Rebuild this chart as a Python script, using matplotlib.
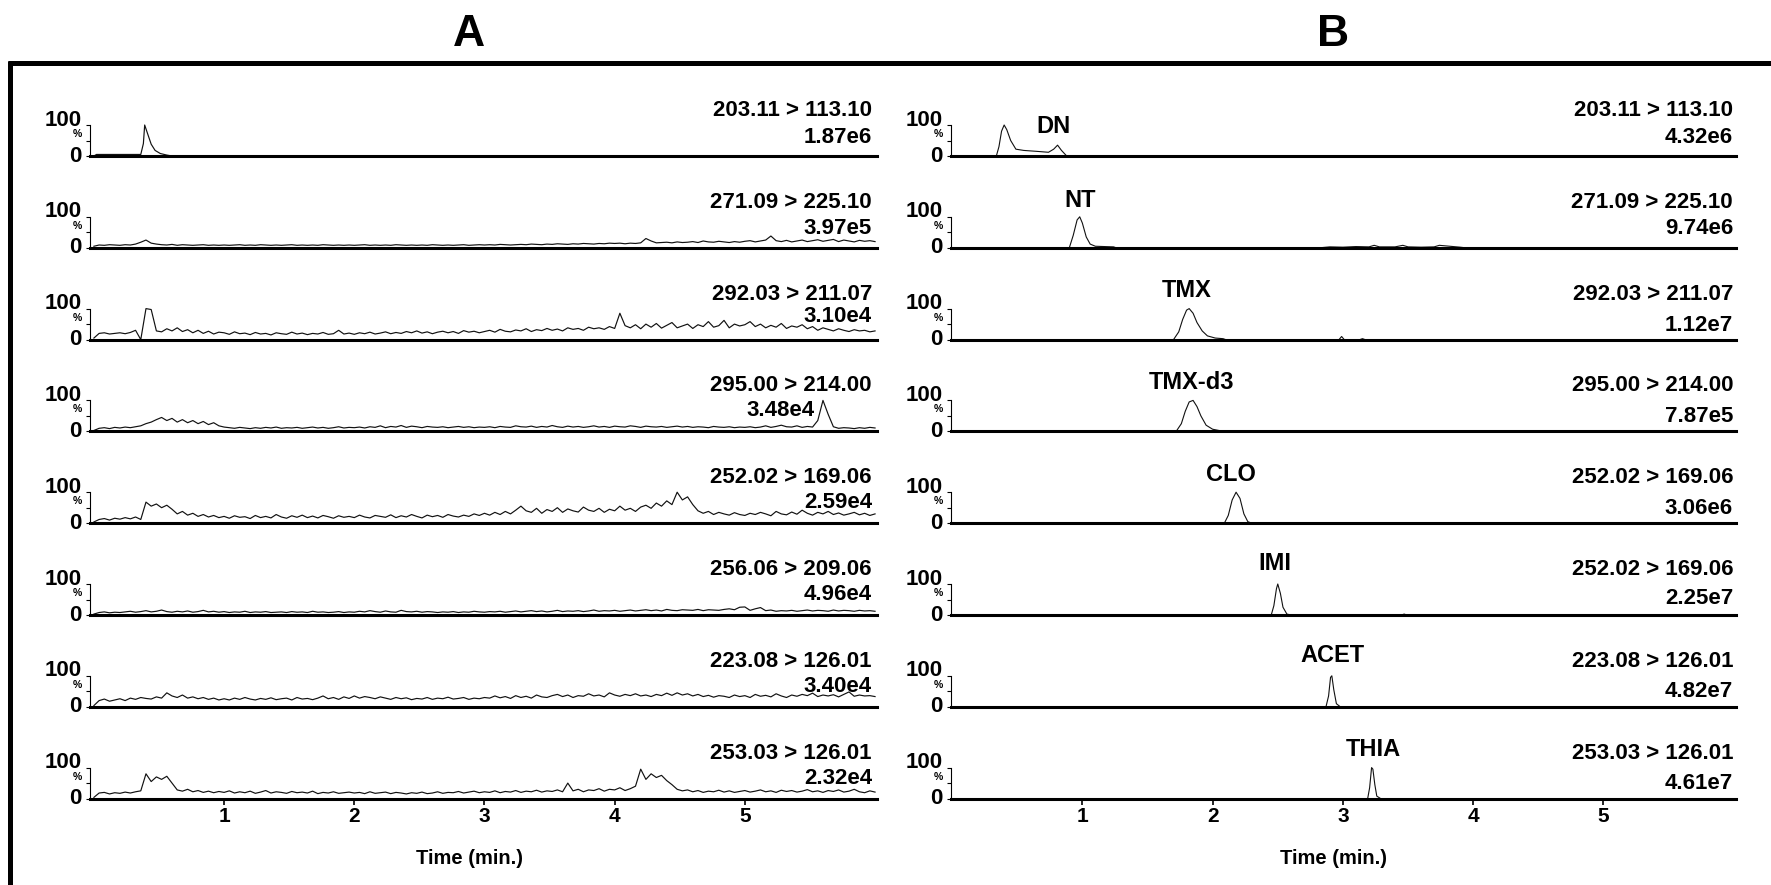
import numpy as np
import matplotlib
matplotlib.use("Agg")
import matplotlib.pyplot as plt
from matplotlib.lines import Line2D

plt.rcParams["font.family"] = ["Liberation Sans", "DejaVu Sans"]
plt.rcParams["font.weight"] = "bold"

# ---------------- data ----------------
TRANSITIONS_A = ["203.11 > 113.10", "271.09 > 225.10", "292.03 > 211.07", "295.00 > 214.00",
                 "252.02 > 169.06", "256.06 > 209.06", "223.08 > 126.01", "253.03 > 126.01"]
INTENSITY_A = ["1.87e6", "3.97e5", "3.10e4", "3.48e4", "2.59e4", "4.96e4", "3.40e4", "2.32e4"]
TRANSITIONS_B = ["203.11 > 113.10", "271.09 > 225.10", "292.03 > 211.07", "295.00 > 214.00",
                 "252.02 > 169.06", "252.02 > 169.06", "223.08 > 126.01", "253.03 > 126.01"]
INTENSITY_B = ["4.32e6", "9.74e6", "1.12e7", "7.87e5", "3.06e6", "2.25e7", "4.82e7", "4.61e7"]
COMPOUNDS_B = ["DN", "NT", "TMX", "TMX-d3", "CLO", "IMI", "ACET", "THIA"]
COMPOUND_LABEL_T = [0.78, 0.98, 1.80, 1.84, 2.14, 2.48, 2.92, 3.23]
X_TICKS = [1, 2, 3, 4, 5]

# Panel A, row 1 (blank sample, sparse trace)
A1_T = [0.0, 0.02, 0.36, 0.38, 0.39, 0.41, 0.44, 0.47, 0.51, 0.56, 0.60, 6.0]
A1_V = [0, 5, 5, 40, 100, 75, 38, 18, 8, 3, 0, 0]

# Panel A, rows 2-8: relative intensity (%) sampled every 0.04 min, 0 - 6 min
A2_V = [5, 9, 8, 10, 9, 8, 10, 9, 12, 18, 25, 15, 12, 10, 9, 11, 8, 10, 9, 8, 9, 10, 8, 9, 8,
        9, 8, 9, 10, 8, 9, 8, 10, 9, 8, 9, 8, 9, 10, 8, 9, 8, 9, 8, 10, 9, 8, 9, 8, 9,
        8, 9, 10, 8, 9, 8, 9, 8, 10, 9, 8, 9, 8, 9, 8, 10, 9, 8, 9, 8, 9, 10, 8, 9, 10,
        9, 10, 9, 11, 10, 9, 10, 11, 10, 12, 11, 10, 12, 11, 13, 12, 11, 13, 12, 14, 13, 12, 14, 13, 15,
        14, 15, 13, 15, 14, 16, 30, 22, 16, 17, 18, 16, 19, 17, 18, 20, 17, 22, 19, 18, 21, 19, 17, 20, 18,
        21, 23, 19, 22, 25, 38, 23, 20, 24, 19, 22, 25, 20, 23, 26, 21, 24, 27, 20, 25, 22, 19, 24, 21, 23, 20]
A3_V = [5, 20, 22, 18, 20, 22, 19, 23, 30, 0, 100, 97, 28, 25, 35, 28, 38, 26, 32, 22, 30, 20, 27, 18, 24,
        22, 17, 25, 19, 21, 16, 23, 18, 20, 15, 22, 19, 17, 24, 18, 21, 16, 20, 18, 23, 17, 19, 30, 18, 21,
        17, 22, 19, 24, 18, 21, 25, 19, 23, 20, 26, 22, 28, 21, 25, 19, 24, 27, 22, 26, 20, 29, 24, 27, 22,
        26, 30, 24, 33, 27, 25, 31, 28, 35, 26, 32, 29, 36, 30, 34, 28, 38, 33, 36, 30, 40, 35, 38, 33, 42,
        36, 85, 45, 38, 48, 35, 50, 40, 52, 37, 46, 55, 38, 44, 50, 36, 48, 42, 58, 40, 45, 62, 38, 50, 44,
        48, 58, 42, 50, 38, 46, 40, 52, 36, 44, 40, 48, 35, 42, 30, 38, 33, 28, 35, 30, 26, 32, 28, 30, 25, 28]
A4_V = [3, 10, 12, 9, 13, 11, 14, 12, 15, 18, 25, 30, 38, 45, 35, 42, 30, 38, 28, 35, 25, 32, 22, 28, 18,
        14, 12, 10, 13, 11, 9, 12, 10, 13, 11, 14, 10, 12, 11, 13, 10, 12, 14, 11, 13, 10, 12, 15, 11, 13,
        12, 14, 11, 15, 13, 18, 12, 16, 14, 19, 13, 17, 15, 12, 16, 14, 13, 15, 12, 14, 16, 13, 15, 12, 14,
        13, 15, 12, 16, 14, 13, 18, 15, 14, 17, 13, 16, 14, 19, 15, 13, 17, 14, 16, 13, 15, 18, 14, 16, 13,
        17, 15, 14, 18, 16, 13, 17, 15, 14, 16, 13, 15, 17, 14, 16, 13, 15, 14, 12, 16, 14, 13, 15, 12, 14,
        13, 15, 12, 14, 18, 13, 16, 20, 15, 14, 18, 13, 16, 14, 35, 100, 55, 15, 10, 12, 11, 9, 12, 10, 13, 11]
A5_V = [4, 12, 15, 10, 16, 13, 18, 14, 20, 12, 68, 55, 62, 50, 58, 45, 30, 38, 26, 32, 22, 28, 20, 25, 18,
        22, 16, 24, 19, 21, 15, 25, 18, 22, 17, 28, 20, 16, 24, 19, 26, 18, 23, 17, 25, 21, 16, 24, 19, 22,
        18, 26, 20, 17, 25, 22, 19, 27, 18, 24, 20, 28, 22, 17, 26, 21, 25, 19, 28, 23, 20, 26, 22, 30, 25,
        32, 26, 35, 28, 38, 30, 42, 55, 40, 35, 48, 32, 44, 38, 50, 35, 46, 40, 36, 52, 42, 38, 48, 35, 45,
        40, 55, 42, 48, 38, 52, 58, 48, 65, 55, 72, 60, 100, 75, 85, 60, 40, 32, 38, 28, 35, 30, 26, 34, 28,
        25, 32, 28, 35, 30, 24, 38, 30, 27, 36, 29, 42, 32, 26, 35, 30, 38, 28, 33, 26, 30, 35, 27, 32, 25, 30]
A6_V = [3, 8, 10, 7, 9, 8, 10, 12, 9, 11, 14, 10, 12, 16, 11, 9, 12, 10, 13, 9, 11, 15, 10, 12, 9,
        11, 8, 10, 9, 12, 8, 10, 9, 11, 8, 9, 10, 8, 11, 9, 10, 8, 12, 9, 10, 8, 9, 11, 8, 10,
        9, 12, 10, 14, 11, 9, 13, 10, 9, 15, 11, 10, 12, 9, 11, 10, 8, 10, 9, 11, 8, 10, 9, 12, 10,
        9, 11, 10, 12, 9, 11, 13, 10, 12, 14, 11, 13, 10, 12, 15, 11, 13, 12, 14, 11, 13, 16, 12, 14, 13,
        15, 12, 14, 16, 13, 15, 17, 14, 16, 13, 18, 15, 14, 17, 16, 15, 18, 14, 17, 16, 15, 18, 20, 17, 25,
        26, 15, 20, 24, 14, 16, 12, 14, 13, 15, 12, 14, 16, 13, 15, 14, 12, 16, 13, 15, 14, 12, 15, 13, 14, 12]
A7_V = [4, 20, 25, 18, 22, 26, 20, 28, 24, 30, 27, 25, 32, 28, 45, 35, 30, 38, 28, 32, 26, 30, 24, 28, 22,
        26, 22, 28, 24, 30, 25, 22, 27, 24, 29, 23, 26, 28, 22, 30, 25, 27, 23, 28, 35, 26, 30, 24, 32, 27,
        35, 28, 33, 30, 26, 32, 28, 24, 30, 26, 29, 23, 27, 25, 30, 24, 28, 26, 31, 25, 27, 30, 24, 28, 26,
        30, 28, 35, 29, 33, 27, 36, 30, 34, 28, 38, 32, 30, 36, 40, 33, 38, 30, 36, 34, 42, 35, 38, 32, 45,
        38, 34, 40, 36, 42, 35, 38, 33, 40, 36, 44, 37, 45, 38, 42, 35, 40, 33, 37, 31, 36, 34, 30, 38, 33,
        36, 30, 40, 34, 37, 32, 42, 35, 30, 38, 34, 40, 36, 44, 33, 38, 35, 39, 32, 40, 48, 34, 38, 35, 36, 33]
A8_V = [4, 18, 20, 15, 19, 17, 21, 18, 22, 25, 80, 55, 70, 62, 72, 50, 28, 24, 30, 22, 26, 20, 24, 19, 23,
        20, 25, 18, 22, 19, 24, 17, 21, 26, 18, 22, 20, 17, 23, 19, 21, 18, 24, 16, 20, 18, 22, 17, 19, 21,
        18, 20, 16, 22, 17, 19, 21, 16, 20, 18, 15, 19, 17, 21, 16, 18, 22, 17, 20, 19, 23, 18, 21, 24, 19,
        22, 20, 25, 19, 23, 21, 26, 20, 24, 22, 27, 21, 25, 23, 28, 22, 50, 25, 30, 22, 28, 26, 32, 24, 30,
        28, 35, 26, 32, 40, 95, 62, 80, 68, 75, 58, 45, 30, 25, 28, 22, 26, 20, 24, 22, 27, 21, 25, 20, 23,
        26, 21, 24, 28, 22, 25, 20, 27, 23, 26, 21, 24, 29, 22, 25, 20, 26, 23, 28, 21, 24, 30, 22, 19, 25, 21]

# Panel B: spiked standards (sparse traces, time in min, intensity in %)
B1_T = [0.0, 0.34, 0.36, 0.38, 0.40, 0.42, 0.45, 0.49, 0.55, 0.65, 0.74, 0.78, 0.81, 0.84, 0.88, 6.02]
B1_V = [0, 0, 30, 80, 100, 85, 50, 22, 18, 15, 12, 22, 35, 18, 0, 0]
B2_T = [0.0, 0.90, 0.93, 0.96, 0.98, 1.00, 1.03, 1.06, 1.10, 1.24, 1.26, 2.82, 2.90, 3.00, 3.10,
        3.20, 3.24, 3.28, 3.40, 3.46, 3.50, 3.60, 3.70, 3.74, 3.90, 3.94, 6.02]
B2_V = [0, 0, 40, 90, 100, 80, 35, 12, 5, 3, 0, 0, 3, 2, 4, 3, 8, 3, 3, 8, 3, 2, 3, 8, 2, 0, 0]
B3_T = [0.0, 1.70, 1.74, 1.77, 1.80, 1.82, 1.85, 1.88, 1.92, 1.96, 2.02, 2.08, 2.10,
        2.97, 2.99, 3.01, 3.13, 3.15, 3.17, 6.02]
B3_V = [0, 0, 25, 65, 95, 100, 85, 55, 28, 12, 5, 3, 0, 0, 10, 0, 0, 3, 0, 0]
B4_T = [0.0, 1.72, 1.76, 1.79, 1.82, 1.85, 1.88, 1.91, 1.95, 2.00, 2.06, 2.08, 6.02]
B4_V = [0, 0, 25, 65, 95, 100, 80, 50, 20, 7, 2, 0, 0]
B5_T = [0.0, 2.09, 2.12, 2.15, 2.18, 2.21, 2.24, 2.27, 2.30, 6.02]
B5_V = [0, 0, 25, 75, 100, 80, 30, 5, 0, 0]
B6_T = [0.0, 2.45, 2.47, 2.49, 2.50, 2.52, 2.54, 2.57, 2.60, 3.45, 3.47, 3.49, 6.02]
B6_V = [0, 0, 30, 85, 100, 70, 25, 3, 0, 0, 3, 0, 0]
B7_T = [0.0, 2.87, 2.89, 2.905, 2.915, 2.93, 2.95, 2.98, 6.02]
B7_V = [0, 0, 35, 95, 100, 55, 10, 0, 0]
B8_T = [0.0, 3.19, 3.205, 3.22, 3.23, 3.245, 3.26, 3.29, 6.02]
B8_V = [0, 0, 35, 100, 95, 45, 8, 0, 0]

# ---------------- layout (pixels) ----------------
W, H = 1771, 885
PX = 72 / 100  # points per pixel
fig = plt.figure(figsize=(W / 100, H / 100), dpi=100)

ROW0_BASE = 156.0
ROW_STEP = 91.8
ROW_H = 31.0
A_X0, A_X1, A_XLIM = 90, 877, (-0.03, 6.015)
B_X0, B_X1, B_XLIM = 951, 1736, (-0.008, 6.017)
NAME_OFFSETS = [-6.0, 7.0, 8.0, 8.4, 8.4, 9.8, 9.8, 8.0]   # points, baseline relative to 100%
LINE2_RIGHT_A = [872, 872, 872, 815, 872, 872, 872, 872]
LINE2_SHIFT_A = [2, 1, -3, 0, 0, 0, 0, 0]   # px, downward
LINE2_SHIFT_B = [2, 1, 6, 6, 6, 4, 5, 5]

A_traces = [(A1_T, A1_V)] + [(None, v) for v in (A2_V, A3_V, A4_V, A5_V, A6_V, A7_V, A8_V)]
B_traces = [(B1_T, B1_V), (B2_T, B2_V), (B3_T, B3_V), (B4_T, B4_V),
            (B5_T, B5_V), (B6_T, B6_V), (B7_T, B7_V), (B8_T, B8_V)]


def make_axes(x0, x1, row):
    base = ROW0_BASE + ROW_STEP * row
    return fig.add_axes([x0 / W, 1 - base / H, (x1 - x0) / W, ROW_H / H])


def style_axes(ax, xlim, last):
    ax.set_xlim(*xlim)
    ax.set_ylim(0, 100)
    ax.patch.set_alpha(0)
    for s in ("top", "right"):
        ax.spines[s].set_visible(False)
    ax.spines["left"].set_linewidth(0.8)
    ax.spines["bottom"].set_linewidth(2.2)
    ax.set_yticks([0, 50, 100])
    ax.set_yticklabels([])
    ax.tick_params(axis="y", length=3, width=0.8, direction="out")
    if last:
        ax.set_xticks(X_TICKS)
        ax.set_xticklabels([str(x) for x in X_TICKS], fontsize=15, fontweight="bold")
        ax.tick_params(axis="x", length=4, width=1.2, pad=2)
    else:
        ax.set_xticks([])
    ax.annotate("100", xy=(0, 100), xycoords=("axes fraction", "data"), xytext=(-6, -0.5),
                textcoords="offset points", ha="right", va="baseline", fontsize=16, fontweight="bold")
    ax.annotate("%", xy=(0, 50), xycoords=("axes fraction", "data"), xytext=(-6, 2.5),
                textcoords="offset points", ha="right", va="baseline", fontsize=7.5, fontweight="bold")
    ax.annotate("0", xy=(0, 0), xycoords=("axes fraction", "data"), xytext=(-6, -4.0),
                textcoords="offset points", ha="right", va="baseline", fontsize=16, fontweight="bold")


def right_labels(ax, x_right_px, x_right2_px, x0, x1, l1, l2, shift2):
    fx1 = (x_right_px - x0) / (x1 - x0)
    fx2 = (x_right2_px - x0) / (x1 - x0)
    ax.annotate(l1, xy=(fx1, 100), xycoords=("axes fraction", "data"), xytext=(0, 6.5),
                textcoords="offset points", ha="right", va="baseline", fontsize=16, fontweight="bold")
    ax.annotate(l2, xy=(fx2, 100), xycoords=("axes fraction", "data"), xytext=(0, -11.5 - shift2 * PX),
                textcoords="offset points", ha="right", va="baseline", fontsize=16, fontweight="bold")


for i in range(8):
    last = i == 7
    # panel A
    ax = make_axes(A_X0, A_X1, i)
    style_axes(ax, A_XLIM, last)
    t, v = A_traces[i]
    if t is None:
        t = np.linspace(0.0, 6.0, len(v))
    ax.plot(t, v, color="#111111", lw=0.85, clip_on=False)
    right_labels(ax, 872, LINE2_RIGHT_A[i], A_X0, A_X1, TRANSITIONS_A[i], INTENSITY_A[i], LINE2_SHIFT_A[i])

    # panel B
    bx = make_axes(B_X0, B_X1, i)
    style_axes(bx, B_XLIM, last)
    t, v = B_traces[i]
    bx.plot(t, v, color="#111111", lw=0.8, clip_on=False)
    right_labels(bx, 1733, 1733, B_X0, B_X1, TRANSITIONS_B[i], INTENSITY_B[i], LINE2_SHIFT_B[i])
    bx.annotate(COMPOUNDS_B[i], xy=(COMPOUND_LABEL_T[i], 100), xycoords="data",
                xytext=(0, NAME_OFFSETS[i]), textcoords="offset points",
                ha="center", va="baseline", fontsize=17, fontweight="bold")

# titles and axis labels
fig.text(469 / W, 1 - 35 / H, "A", ha="center", va="center", fontsize=32, fontweight="bold")
fig.text(1333 / W, 1 - 35 / H, "B", ha="center", va="center", fontsize=32, fontweight="bold")
fig.text(469 / W, 1 - 859 / H, "Time (min.)", ha="center", va="center", fontsize=14.5, fontweight="bold")
fig.text(1333 / W, 1 - 859 / H, "Time (min.)", ha="center", va="center", fontsize=14.5, fontweight="bold")

# frame (top and left edges visible)
fig.add_artist(Line2D([8 / W, 1.0], [1 - 63 / H, 1 - 63 / H], color="black", lw=3.6,
                      transform=fig.transFigure, solid_capstyle="butt"))
fig.add_artist(Line2D([10 / W, 10 / W], [1 - 61 / H, 0.0], color="black", lw=3.6,
                      transform=fig.transFigure, solid_capstyle="butt"))

fig.savefig("out.png", dpi=100, facecolor="white")
